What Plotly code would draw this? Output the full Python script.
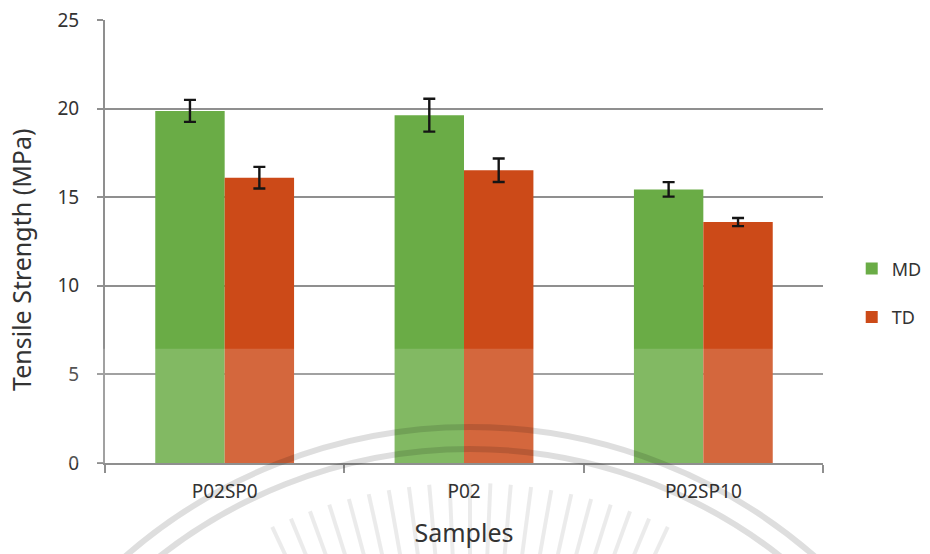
import math
import plotly.graph_objects as go

# Tensile strength of the films, machine (MD) and transverse (TD) direction
samples = ["P02SP0", "P02", "P02SP10"]
md_strength = [19.87, 19.63, 15.44]
md_error = [0.62, 0.93, 0.41]
td_strength = [16.10, 16.52, 13.60]
td_error = [0.61, 0.66, 0.23]
y_ticks = [0, 5, 10, 15, 20, 25]

GREEN = "#6aac46"
RED = "#cc4a18"
GRID = "#8f8f8f"
TEXT = "#333333"
FONT = "Noto Sans"

# plot-area geometry in pixels (used to place page decorations in paper units)
W, H = 930, 554
L, R, T, B = 105, 107, 20, 91
PW, PH = W - L - R, H - T - B


def px(x):
    return (x - L) / PW


def py(y):
    return (H - B - y) / PH


fig = go.Figure()
fig.add_trace(go.Bar(
    name="MD", x=samples, y=md_strength, marker_color=GREEN,
    marker_line_width=0, legendgroup="MD",
    error_y=dict(type="data", array=md_error, color="#151515", thickness=2.4, width=6),
))
fig.add_trace(go.Bar(
    name="TD", x=samples, y=td_strength, marker_color=RED,
    marker_line_width=0, legendgroup="TD",
    error_y=dict(type="data", array=td_error, color="#151515", thickness=2.4, width=6),
))

shapes = [
    # pale band across the lower part of the page
    dict(type="rect", xref="paper", yref="y", x0=-0.2, x1=1.2, y0=0, y1=6.45,
         fillcolor="rgba(255,255,255,0.16)", line_width=0, layer="above"),
]

# faint seal in the background: two rings and radiating spokes
cx, cy = 470, 951
for r in (524, 502):
    shapes.append(dict(
        type="circle", xref="paper", yref="paper",
        x0=px(cx - r), x1=px(cx + r), y0=py(cy + r), y1=py(cy - r),
        line=dict(color="rgba(0,0,0,0.13)", width=6), layer="above",
    ))
ang = -25.0
while ang <= 25.0:
    a = math.radians(ang)
    r0, r1 = 390, 468
    x0, y0 = cx + r0 * math.sin(a), cy - r0 * math.cos(a)
    x1, y1 = cx + r1 * math.sin(a), cy - r1 * math.cos(a)
    shapes.append(dict(
        type="line", xref="paper", yref="paper",
        x0=px(x0), y0=py(y0), x1=px(x1), y1=py(y1),
        line=dict(color="rgba(0,0,0,0.08)", width=4), layer="above",
    ))
    ang += 2.5

fig.update_layout(
    width=W, height=H,
    margin=dict(l=L, r=R, t=T, b=B, autoexpand=False),
    paper_bgcolor="white", plot_bgcolor="white",
    font=dict(family=FONT, color=TEXT, size=15),
    barmode="group", bargap=0.42, bargroupgap=0,
    showlegend=True,
    legend=dict(
        x=1.04, y=0.48, xanchor="left", yanchor="top",
        font=dict(size=18, color=TEXT, family=FONT),
        tracegroupgap=22, itemwidth=30, bgcolor="rgba(0,0,0,0)",
    ),
    shapes=shapes,
    annotations=[dict(
        text="Tensile Strength (MPa)", textangle=-90, showarrow=False,
        xref="paper", yref="paper", x=px(21), y=py(260),
        xanchor="center", yanchor="middle",
        font=dict(size=25, color=TEXT, family=FONT),
    )],
)

fig.update_xaxes(
    title=dict(text="Samples", font=dict(size=25, color=TEXT), standoff=22),
    showline=True, linecolor=GRID, linewidth=2,
    ticks="outside", tickson="boundaries", ticklen=8, tickcolor=GRID, tickwidth=2,
    tickfont=dict(size=19, color=TEXT), ticklabelstandoff=10,
    showgrid=False, zeroline=False,
)
fig.update_yaxes(
    range=[0, 25], tickvals=y_ticks, ticktext=[str(v) for v in y_ticks],
    showline=True, linecolor=GRID, linewidth=2,
    ticks="outside", ticklen=6, tickcolor=GRID, tickwidth=2,
    tickfont=dict(size=19, color=TEXT), ticklabelstandoff=14,
    showgrid=True, gridcolor=GRID, gridwidth=2, zeroline=False,
)

fig.write_html("out.html")
